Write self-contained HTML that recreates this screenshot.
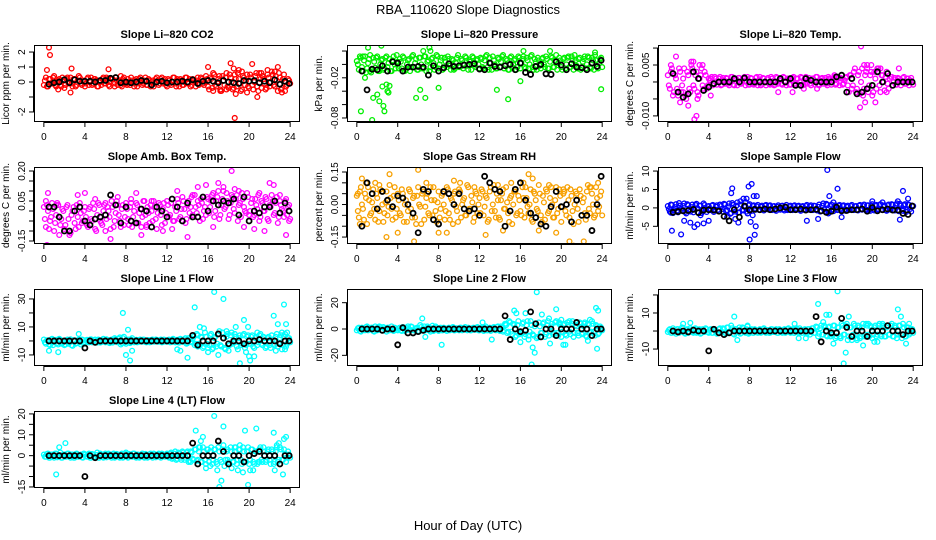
<!DOCTYPE html>
<html><head><meta charset="utf-8"><style>
html,body{margin:0;padding:0;background:#fff}
svg{display:block;font-family:"Liberation Sans",sans-serif}
</style></head><body>
<svg id="c" width="936" height="540" viewBox="0 0 936 540">
<text x="468" y="14" text-anchor="middle" font-size="13">RBA_110620  Slope Diagnostics</text>
<text x="468" y="530" text-anchor="middle" font-size="13">Hour of Day (UTC)</text>
</svg>
<script>
const hoursCore=[0,0.2,0.4,0.6,0.8,1,1.2,1.4,1.6,1.8,2,2.2,2.4,2.6,2.8,3,3.2,3.4,3.6,3.8,4,4.2,4.4,4.6,4.8,5,5.2,5.4,5.6,5.8,6,6.2,6.4,6.6,6.8,7,7.2,7.4,7.6,7.8,8,8.2,8.4,8.6,8.8,9,9.2,9.4,9.6,9.8,10,10.2,10.4,10.6,10.8,11,11.2,11.4,11.6,11.8,12,12.2,12.4,12.6,12.8,13,13.2,13.4,13.6,13.8,14,14.2,14.4,14.6,14.8,15,15.2,15.4,15.6,15.8,16,16.2,16.4,16.6,16.8,17,17.2,17.4,17.6,17.8,18,18.2,18.4,18.6,18.8,19,19.2,19.4,19.6,19.8,20,20.2,20.4,20.6,20.8,21,21.2,21.4,21.6,21.8,22,22.2,22.4,22.6,22.8,23,23.2,23.4,23.6,23.8,24];
const hoursCore2=[0.1,0.3,0.5,0.7,0.9,1.1,1.3,1.5,1.7,1.9,2.1,2.3,2.5,2.7,2.9,3.1,3.3,3.5,3.7,3.9,4.1,4.3,4.5,4.7,4.9,5.1,5.3,5.5,5.7,5.9,6.1,6.3,6.5,6.7,6.9,7.1,7.3,7.5,7.7,7.9,8.1,8.3,8.5,8.7,8.9,9.1,9.3,9.5,9.7,9.9,10.1,10.3,10.5,10.7,10.9,11.1,11.3,11.5,11.7,11.9,12.1,12.3,12.5,12.7,12.9,13.1,13.3,13.5,13.7,13.9,14.1,14.3,14.5,14.7,14.9,15.1,15.3,15.5,15.7,15.9,16.1,16.3,16.5,16.7,16.9,17.1,17.3,17.5,17.7,17.9,18.1,18.3,18.5,18.7,18.9,19.1,19.3,19.5,19.7,19.9,20.1,20.3,20.5,20.7,20.9,21.1,21.3,21.5,21.7,21.9,22.1,22.3,22.5,22.7,22.9,23.1,23.3,23.5,23.7,23.9];
const hoursBlk=[0.5,1,1.5,2,2.5,3,3.5,4,4.5,5,5.5,6,6.5,7,7.5,8,8.5,9,9.5,10,10.5,11,11.5,12,12.5,13,13.5,14,14.5,15,15.5,16,16.5,17,17.5,18,18.5,19,19.5,20,20.5,21,21.5,22,22.5,23,23.5,23.9];
const xTicks=[0,4,8,12,16,20,24];

const co2Core=[-0.2,0.3,-0.3,0.2,-0.1,0.4,-0.3,0.1,-0.2,0.3,-0.4,0.2,-0.1,0.3,-0.3,0.2,-0.2,0.4,-0.1,0.1,-0.3,0.2,-0.2,0.3,-0.1,0.2,-0.3,0.1,-0.2,0.3,-0.1,0.2,-0.3,0.2,-0.1,0.3,-0.2,0.1,-0.3,0.3,-0.1,0.2,-0.2,0.1,-0.3,0.2,-0.1,0.3,-0.2,0.1,-0.2,0.2,-0.3,0.1,-0.1,0.3,-0.2,0.2,-0.1,0.2,-0.3,0.1,-0.2,0.3,-0.1,0.2,-0.3,0.1,-0.2,0.3,-0.1,0.2,-0.2,0.1,-0.3,0.3,-0.1,0.2,-0.2,0.4,-0.3,0.3,-0.4,0.5,-0.3,0.2,-0.5,0.4,-0.2,0.6,-0.4,0.3,-0.5,0.5,-0.3,0.2,-0.6,0.4,-0.2,0.5,-0.4,0.3,-0.5,0.4,-0.3,0.6,-0.4,0.2,-0.5,0.5,-0.3,0.7,-0.2,0.4,-0.6,0.3,-0.4,0.5,-0.3,0.2,-0.1];
const co2Core2=[0.1,-0.3,0.2,-0.1,0.3,-0.2,0.0,0.2,-0.3,0.1,-0.2,0.3,0.0,-0.1,0.2,-0.3,0.1,0.3,-0.2,0.0,-0.1,0.3,0.0,-0.2,0.2,0.1,-0.3,0.0,0.2,-0.1,0.3,-0.2,0.0,0.2,-0.3,0.1,0.0,-0.2,0.2,0.1,-0.2,0.0,0.3,-0.1,0.1,-0.3,0.2,0.0,-0.1,0.3,-0.2,0.1,0.0,-0.3,0.2,0.1,-0.1,0.3,0.0,-0.2,0.2,-0.1,0.0,0.3,-0.3,0.1,0.2,-0.2,0.0,0.3,-0.1,-0.3,0.2,0.0,0.1,-0.2,0.3,-0.1,0.0,0.2,-0.5,0.2,0.6,-0.2,0.0,0.4,-0.6,0.1,0.3,-0.3,0.5,0.0,-0.4,0.2,0.6,-0.1,-0.5,0.3,0.1,-0.3,0.5,-0.2,0.0,0.6,-0.6,0.2,0.4,-0.1,-0.4,0.3,0.0,0.5,-0.3,0.1,0.6,-0.5,0.2,0.0,-0.2,0.1];
const co2OutX=[0.3,0.5,0.6,1.4,2.6,2.7,6.3,7.5,16,16.5,17.2,18.2,18.5,18.6,18.7,19.3,19.8,20.3,20.8,21.2,21.8,22.5,22.8,23.2,23.5,17.8,19];
const co2OutY=[0.8,2.3,1.8,-0.5,-0.7,0.9,0.85,0.4,1.0,-0.6,-0.6,1.25,0.9,-2.4,-0.8,0.7,-0.7,1.2,-1.0,0.6,0.8,0.7,1.0,-0.7,-0.6,-0.5,0.8];
const co2Blk=[-0.15,-0.05,0,0.15,-0.05,0.15,0.05,0.05,0.05,0,0.1,0.1,0.25,0.3,-0.05,0,-0.05,0,0.1,0.05,-0.2,0,0.05,-0.05,0,0,0.05,0,0.15,-0.1,0.05,0.1,0.05,-0.05,0.1,0,-0.05,-0.1,0.1,0.05,0.1,-0.05,0.05,-0.05,0.15,-0.15,0.05,-0.1];

const presCore=[0.005,-0.008,0.01,-0.01,0.012,-0.006,0.008,-0.012,0.01,-0.005,0.012,-0.01,0.006,-0.008,0.01,-0.004,0.008,-0.01,0.012,-0.006,0.004,0.008,-0.006,0.01,-0.008,0.006,-0.01,0.012,-0.004,0.008,-0.008,0.01,-0.006,0.012,-0.01,0.006,-0.004,0.01,-0.008,0.014,-0.006,0.006,-0.008,0.01,-0.004,0.008,-0.008,0.006,-0.006,0.01,-0.004,0.008,-0.006,0.012,-0.002,0.006,-0.008,0.01,-0.004,0.008,-0.006,0.008,-0.006,0.012,-0.004,0.01,-0.008,0.006,-0.006,0.01,-0.004,0.012,-0.006,0.008,-0.008,0.01,-0.004,0.006,-0.008,0.012,-0.006,0.008,-0.004,0.01,-0.006,0.012,-0.004,0.008,-0.008,0.006,-0.006,0.01,-0.004,0.008,-0.006,0.012,-0.004,0.006,-0.008,0.01,-0.004,0.008,-0.006,0.01,-0.004,0.012,-0.008,0.006,-0.006,0.01,-0.004,0.008,-0.006,0.012,-0.004,0.01,-0.008,0.006,-0.006,0.008,-0.004];
const presCore2=[0.0,0.012,-0.004,0.006,-0.012,0.002,0.014,-0.008,0.004,0.01,-0.01,0.0,0.008,-0.006,0.012,0.002,-0.01,0.006,0.0,0.014,-0.006,0.004,0.012,-0.01,0.0,0.008,-0.004,0.014,0.002,-0.008,0.01,0.0,-0.006,0.012,0.004,-0.01,0.008,0.002,-0.004,0.012,0.0,0.01,-0.006,0.004,0.012,-0.002,0.008,-0.008,0.002,0.014,-0.004,0.006,0.0,0.01,-0.008,0.004,0.012,-0.002,0.006,0.0,0.01,-0.004,0.006,0.014,-0.008,0.002,0.012,0.0,-0.006,0.008,0.004,0.014,-0.002,0.006,-0.008,0.012,0.0,0.008,-0.004,0.01,0.002,0.012,-0.006,0.006,0.0,0.014,-0.008,0.004,0.01,-0.002,0.008,0.0,0.012,-0.006,0.004,0.01,-0.004,0.014,0.002,0.006,-0.008,0.01,0.0,0.012,-0.004,0.006,0.014,-0.002,0.008,-0.008,0.004,0.012,0.0,0.01,-0.006,0.006,0.014,-0.004,0.002,0.01];
const presOutX=[0.4,0.6,1.1,1.5,1.6,2.0,2.2,2.4,2.5,2.6,2.7,2.9,3.0,3.1,3.2,5.8,6.2,6.5,6.7,7.1,7.2,8.0,13.7,14.8,16.0,16.3,18.9,23.3,23.9,0.8,1.3];
const presOutY=[-0.07,0.012,0.025,-0.083,-0.05,-0.045,-0.055,0.028,-0.033,-0.062,-0.07,-0.03,-0.04,-0.042,-0.032,-0.05,-0.038,0.02,-0.05,0.025,0.02,-0.035,-0.038,-0.052,-0.025,0.02,0.02,0.018,-0.037,-0.02,-0.01];
const presBlk=[-0.01,-0.038,-0.007,-0.008,-0.002,-0.01,0.004,0.002,-0.01,-0.004,-0.004,-0.003,-0.004,-0.016,-0.002,-0.01,-0.005,0.001,-0.003,-0.002,-0.001,0,0.001,-0.007,-0.008,0.002,-0.003,-0.004,-0.002,0,-0.008,0.002,-0.012,-0.015,-0.003,0,-0.014,-0.015,0.004,-0.001,-0.008,0.001,-0.004,-0.005,-0.008,0.002,-0.003,0.006];

const tempCore=[0.002,-0.002,0.004,-0.003,0.001,-0.004,0.003,-0.001,0.004,-0.005,0.002,-0.003,0.004,-0.002,0.003,-0.004,0.002,-0.001,0.003,-0.002,0.001,0.001,-0.001,0.0015,-0.0008,0.001,-0.001,0.0012,-0.0005,0.001,-0.001,0.0015,-0.0008,0.001,-0.001,0.0012,-0.0005,0.001,-0.001,0.0015,-0.0008,0.001,-0.0008,0.0012,-0.001,0.0015,-0.0005,0.001,-0.001,0.0012,-0.0008,0.001,-0.001,0.0015,-0.0005,0.001,-0.0008,0.0012,-0.001,0.001,-0.0008,0.0012,-0.001,0.001,-0.0008,0.0015,-0.001,0.001,-0.0005,0.0012,-0.001,0.001,-0.0008,0.0015,-0.001,0.001,-0.0005,0.0012,-0.001,0.001,-0.0008,0.001,-0.0008,0.0012,-0.001,0.001,-0.0005,0.0012,-0.001,0.002,-0.002,0.003,-0.003,0.002,-0.0035,0.004,-0.002,0.003,-0.003,0.002,-0.004,0.003,-0.002,0.004,-0.003,0.002,-0.0025,0.003,-0.002,0.0015,-0.001,0.0012,-0.0008,0.001,-0.001,0.0012,-0.0005,0.001,-0.001,0.0012,-0.0008];
const tempCore2=[-0.001,0.003,-0.004,0.002,-0.002,0.004,-0.003,0.001,-0.004,0.003,-0.002,0.005,-0.001,0.002,-0.003,0.001,0.004,-0.002,0.002,-0.001,0.0005,0.0015,-0.0005,0.001,0,0.0015,-0.0008,0.0005,0.0012,-0.0005,0,0.0015,-0.001,0.0008,0.0012,-0.0005,0.0005,0.0015,0,-0.0008,0.0012,0,-0.0005,0.0015,0.0005,-0.001,0.0012,0,0.0008,-0.0005,0.0015,0,-0.0008,0.0012,0.0005,-0.0005,0.0015,0,0.001,-0.0008,0.0005,0.0015,-0.0005,0.001,0,0.0012,-0.0008,0.0015,0.0005,-0.0005,0.001,0,0.0015,-0.0008,0.0005,0.0012,0,-0.0005,0.0015,0.0008,0,0.0015,-0.0005,0.001,0.0012,-0.0008,0.0005,0.0015,-0.003,0.002,-0.001,0.004,-0.002,0.003,0.0,-0.004,0.002,0.004,-0.001,0.003,-0.003,0.001,0.004,-0.001,0.002,0.0,0.0015,-0.0005,0.001,0.0015,0,-0.0008,0.0012,0.0005,0,0.0015,-0.0005,0.001,0.0005,0];
const tempOutX=[0.3,0.8,1.2,1.5,2.0,2.3,2.5,2.6,2.8,2.9,3.1,3.4,4.2,10.8,12.2,13.3,14.6,16.3,18.8,18.9,19.2,19.3,19.5,19.9,20.3,20.8,22.6,21.4];
const tempOutY=[0.005,0.0075,-0.006,-0.003,-0.007,0.006,0.006,-0.011,-0.01,-0.005,0.005,0.005,-0.004,-0.003,-0.003,-0.002,-0.002,0.002,-0.0075,0.0105,0.005,-0.006,0.005,0.005,-0.006,0.004,0.004,-0.003];
const tempBlk=[0.0025,-0.003,-0.0045,-0.0035,0.003,0.001,-0.0025,-0.0015,-0.0005,0,0,0,0.001,0,0.0012,0,0,0,0,0,0,0.001,0,0.001,-0.001,-0.001,0.001,0.0005,0,0,0,0,0.0015,0.002,-0.003,0.001,-0.0035,-0.003,-0.002,-0.001,0.003,0,0.0025,-0.001,0,0,0,0];

const ambCore=[0.02,-0.08,0.0,-0.05,0.04,-0.1,-0.02,0.03,-0.07,0.01,-0.09,0.02,-0.04,-0.11,0.0,-0.06,0.03,-0.08,-0.01,-0.05,0.02,-0.07,0.01,-0.04,0.04,-0.09,-0.02,0.03,-0.06,0.0,-0.1,0.02,-0.03,0.05,-0.08,-0.01,0.03,-0.05,0.01,-0.07,0.04,-0.04,0.02,-0.08,0.0,0.04,-0.06,0.01,-0.03,0.05,-0.07,-0.01,0.03,-0.05,0.02,-0.09,0.04,-0.02,0.01,-0.06,0.05,-0.03,0.04,-0.05,0.02,0.06,-0.04,0.01,0.05,-0.06,0.03,-0.01,0.07,-0.03,0.02,0.05,-0.05,0.04,0.0,-0.02,0.06,0.02,0.08,-0.03,0.05,0.1,-0.02,0.06,0.01,0.09,-0.04,0.04,0.07,-0.01,0.08,0.03,-0.03,0.06,0.0,0.09,-0.02,0.04,-0.03,0.06,0.01,-0.05,0.05,0.0,0.07,-0.04,0.03,0.08,-0.02,0.04,-0.06,0.05,0.01,-0.03,0.06,0.02,-0.04];
const ambCore2=[-0.04,0.03,-0.09,-0.03,0.01,-0.06,0.04,-0.12,-0.04,0.0,-0.07,0.03,-0.1,-0.02,0.02,-0.09,-0.03,0.04,-0.06,0.0,-0.03,-0.08,0.02,-0.05,0.01,-0.1,0.04,-0.03,-0.07,0.03,-0.04,0.0,-0.09,0.02,-0.05,0.05,-0.02,-0.08,0.03,-0.03,0.01,-0.07,0.04,-0.03,-0.06,0.03,-0.01,-0.08,0.05,-0.02,0.02,-0.06,0.0,0.05,-0.04,-0.01,0.03,-0.07,0.04,-0.01,0.03,-0.02,0.06,-0.05,0.0,0.04,-0.03,0.07,0.01,-0.04,0.05,0.02,-0.02,0.08,-0.01,0.03,0.06,-0.04,0.02,0.07,-0.01,0.05,0.09,0.0,0.07,-0.04,0.03,0.1,0.02,0.05,-0.02,0.08,0.01,0.06,-0.05,0.04,0.09,0.02,-0.01,0.07,0.0,0.06,-0.02,0.03,0.08,-0.03,0.04,0.0,0.06,-0.05,0.02,0.05,-0.01,0.07,-0.03,0.03,0.0,0.05,-0.02,0.03];
const ambOutX=[0.2,0.3,0.4,1.8,3.3,4.0,5.5,6.0,6.5,7.2,9.0,9.5,10.5,11.6,13.0,14.0,15.0,15.8,17.0,17.5,18.3,18.6,19.5,20.5,21.5,22.0,22.4,23.6,23.9,2.5,8.5,12.5,16.5,21.0,1.2,5.0,10,14.5,19,23];
const ambOutY=[0.05,-0.17,0.09,-0.18,0.08,0.09,-0.05,0.04,-0.14,0.07,0.09,-0.12,0.05,-0.1,0.1,-0.13,0.12,0.13,0.14,0.12,0.2,0.11,-0.08,-0.09,-0.1,0.14,0.13,-0.12,-0.05,-0.12,0.06,-0.09,-0.08,0.09,0.03,0.06,-0.08,0.08,0.1,0.08];
const ambBlk=[0.02,0.02,-0.03,-0.1,-0.1,0.0,0.02,-0.05,-0.07,-0.04,-0.03,-0.02,0.08,0.03,-0.06,0.02,-0.05,-0.06,0.01,0.0,-0.08,0.02,0.0,-0.03,0.06,0.02,-0.05,0.04,-0.03,-0.03,0.07,0.0,0.05,0.03,0.05,0.04,0.06,-0.02,0.07,-0.05,0.0,-0.01,0.02,0.02,0.05,-0.01,0.04,0.0];

const rhCore=[0.04,-0.06,0.08,-0.02,0.05,-0.09,0.02,-0.04,0.07,-0.07,0.03,-0.03,0.06,-0.08,0.01,-0.05,0.09,-0.02,0.04,-0.06,0.05,-0.04,0.07,-0.08,0.02,-0.03,0.06,-0.06,0.04,-0.09,0.08,-0.01,0.05,-0.07,0.03,-0.04,0.08,-0.05,0.02,-0.08,0.06,-0.02,0.05,-0.07,0.08,-0.04,0.03,-0.09,0.06,-0.03,0.07,-0.06,0.02,-0.05,0.09,-0.02,0.04,-0.08,0.06,-0.04,0.03,0.07,-0.05,0.04,-0.08,0.06,-0.03,0.09,-0.06,0.02,-0.07,0.05,-0.02,0.08,-0.04,0.03,-0.09,0.06,-0.05,0.04,-0.03,0.08,-0.06,0.03,-0.04,0.07,-0.08,0.05,-0.02,0.09,-0.05,0.04,-0.07,0.06,-0.03,0.08,-0.06,0.02,-0.04,0.07,-0.08,0.05,-0.03,0.08,-0.06,0.04,-0.09,0.06,-0.02,0.07,-0.05,0.03,-0.07,0.09,-0.04,0.05,-0.06,0.08,-0.03,0.04,-0.05];
const rhCore2=[-0.03,0.06,0.0,-0.07,0.03,0.08,-0.05,0.01,-0.02,0.05,-0.08,0.07,0.0,-0.04,0.06,-0.01,0.03,-0.07,0.08,-0.02,0.02,-0.05,0.05,0.0,-0.08,0.07,-0.02,0.03,-0.06,0.04,0.0,-0.09,0.06,-0.01,0.05,-0.05,0.02,0.08,-0.03,0.01,-0.06,0.04,0.0,-0.03,0.07,-0.07,0.02,0.05,-0.01,-0.08,0.06,0.0,0.03,-0.05,0.08,-0.02,0.01,-0.06,0.05,0.0,-0.04,0.06,-0.01,0.03,-0.07,0.08,0.0,-0.03,0.05,-0.06,0.02,0.07,-0.02,0.01,-0.08,0.04,0.0,0.06,-0.04,0.02,-0.05,0.03,0.08,-0.01,0.0,-0.07,0.06,0.02,-0.03,0.05,-0.08,0.01,0.07,-0.04,0.03,0.0,-0.06,0.08,-0.02,0.04,-0.01,0.06,-0.05,0.02,0.07,-0.03,0.0,0.05,-0.08,0.04,0.01,-0.04,0.06,-0.02,0.08,0.0,-0.05,0.03,-0.01,0.06];
const rhOutX=[0.1,0.5,0.9,1.8,2.9,3.2,4.0,5.6,6.0,6.8,8.0,8.8,10.1,11.5,12.6,14.3,15.1,16.0,16.3,16.8,17.2,17.8,18.8,19.5,20.2,20.8,21.2,22.2,23.6,0.3,2.2,9.5,13.8,22.8];
const rhOutY=[0.05,0.12,0.1,0.1,-0.15,0.14,-0.13,-0.17,0.16,0.1,-0.13,-0.13,0.1,0.08,-0.14,-0.12,0.1,-0.21,0.1,0.14,0.12,-0.12,0.09,-0.13,0.07,-0.17,-0.19,-0.17,0.1,-0.09,0.09,0.11,0.09,0.08];
const rhBlk=[-0.1,0.1,0.05,-0.02,0.06,0.02,-0.01,0.04,0.03,0.0,-0.04,-0.13,0.07,0.06,-0.07,-0.09,0.06,0.05,0.0,0.05,-0.02,-0.03,-0.02,-0.05,0.13,0.1,0.07,0.06,-0.1,-0.03,0.07,0.1,0.02,-0.04,-0.06,-0.09,-0.1,-0.01,0.06,-0.01,0.0,-0.08,0.02,-0.05,-0.05,-0.12,0.0,0.13];

const flowCore=[0.5,-1.0,0.8,-0.6,1.0,-1.2,0.6,-0.8,1.2,-1.5,0.7,-1.0,0.9,-0.5,1.1,-1.3,0.6,-0.9,0.8,-1.1,0.5,-0.6,0.8,-0.4,0.7,-0.8,0.5,-1.0,0.9,-0.6,1.2,-1.4,0.8,-1.0,1.5,-1.2,0.9,-0.7,1.6,-1.5,1.0,-0.8,0.7,-0.5,0.8,-0.6,0.6,-0.7,0.8,-0.4,0.7,-0.6,0.5,-0.8,0.7,-0.5,0.6,-0.7,0.8,-0.4,0.6,-0.6,0.7,-0.5,0.6,-0.8,0.5,-0.6,0.8,-0.5,0.7,-0.6,0.5,-0.7,0.9,-0.8,1.2,-1.0,0.8,-1.2,0.9,-0.9,0.7,-0.6,0.8,-0.5,0.7,-0.8,0.6,-0.5,0.8,-0.6,0.5,-0.7,0.8,-0.5,0.9,-0.6,0.7,-0.8,1.0,-0.7,0.8,-0.5,1.0,-0.6,0.7,-0.8,0.9,-0.5,0.8,-0.7,1.2,-0.9,0.6,-0.8,1.0,-0.6,0.8,-1.0,0.5];
const flowCore2=[-0.3,0.9,-1.4,0.2,-0.7,1.3,-0.2,0.5,-1.1,1.0,-0.4,0.2,-1.2,0.8,-0.1,0.6,-1.4,1.2,-0.3,0.4,-0.2,0.6,-1.1,0.3,-0.5,0.9,-0.3,1.1,-0.9,0.4,-1.6,1.3,-0.2,0.6,-1.3,1.8,-0.5,0.3,-1.0,0.7,-0.3,0.5,-0.2,0.4,-0.5,0.3,-0.4,0.6,-0.2,0.5,-0.3,0.4,-0.5,0.3,-0.2,0.5,-0.4,0.3,-0.6,0.4,-0.3,0.5,-0.2,0.4,-0.5,0.3,-0.4,0.5,-0.2,0.4,-0.3,0.6,-0.5,0.3,-1.0,0.6,-0.4,1.1,-1.5,0.5,-0.4,0.5,-0.3,0.6,-0.2,0.5,-0.4,0.3,-0.6,0.5,-0.3,0.4,-0.5,0.6,-0.3,0.5,-0.4,0.7,-0.5,0.6,-0.4,0.6,-0.3,0.8,-0.5,0.4,-0.6,0.7,-0.3,1.0,-0.5,0.8,-0.6,1.1,-0.4,0.7,-1.1,0.9,-0.3,0.6];
const flowOutX=[0.4,1.3,1.6,2.2,2.6,2.9,3.2,3.5,5.8,6.2,6.3,6.6,6.9,7.4,7.7,7.9,8.0,8.1,8.2,8.3,8.4,8.5,8.6,8.7,13.6,14.7,15.6,15.8,16.2,16.6,17.0,20.0,21.0,22.5,22.7,23.0,23.5,0.3,4.0];
const flowOutY=[-6.2,-7.2,-3.5,-4.0,-5.2,-4.5,-2.0,-4.2,-2.5,4.0,5.3,-3.0,-4.0,2.5,2.5,5.8,-8.6,-3.8,6.5,-2.0,3.2,-7.3,-5.0,3.2,-3.5,-3.0,10.3,3.2,1.5,5.2,-2.5,1.8,1.5,1.8,-3.2,4.6,2.5,-1.3,-3.5];
const flowBlk=[-1.2,-1.0,-0.8,-0.7,-0.4,-1.3,-0.6,-0.5,-0.6,-0.9,-2.3,-3.5,-0.5,-2.5,0.5,-0.6,-0.4,-0.5,-0.3,-0.5,-0.3,0.0,0.2,-0.5,-0.5,-0.3,-0.6,-0.5,-0.4,-0.8,-1.2,-0.9,0.2,-0.8,-0.7,-0.5,-0.5,-0.3,-0.9,0.1,-0.8,-0.5,-0.3,-0.6,-0.6,-1.5,-1.8,0.5];

const l1Core=[1,-2,0.5,-3,1.5,-1,0.8,-2.5,1,-1.5,-3,0.5,-2,1.2,-3.5,0.5,-1.5,1,-2.5,0.8,-1,0.8,-1,1.2,-0.5,1,-1.2,0.6,-0.8,1.5,-1,0.8,-1.5,1,-0.6,1.2,-1,2.5,-1.5,3,-2,1,-1.5,2,-1,0.8,-0.8,1,-0.5,0.8,-1,0.6,-0.8,1,-0.5,0.8,-0.6,1,-0.8,0.6,-0.5,1,-0.8,1.5,-1,0.8,-1.2,1,-0.6,2,-1.5,1,-1,3,-2,4,-3,2.5,-4,3,-5,4,-6,2,-4,5,-3,6,-5,3,-7,4,-2,5,-4,2,-3,4,-5,3,-2,3,-4,2,-3,4,-2,3,-5,2,-3,4,-2,3,-4,2,-6,3,-4,2,-1];
const l1Core2=[-1,0.5,-2.5,1,-3,0,-1.5,1.5,-2,0,-2.5,1,-1,-3,0.5,-2,0,-1,1,-2,0,-0.8,1,-1,0.5,-0.5,1,-1.2,0.5,-0.5,1.2,-1,0.5,-1.2,2,-0.5,1.5,-2.5,2,-1,0.5,-1,1,-0.5,0.5,-1,0.8,-0.5,1,-0.8,0.5,-1,0.8,-0.5,1,-0.5,0.5,-1,1,-0.5,0.5,-1,1,-0.5,0.5,-1,1.5,-0.5,1,-2,2,-0.5,1.5,-3,5,-2,3,-5,6,-2,-3,5,-5,3,-2,7,-4,2,-6,5,-3,6,-1,3,-6,4,-2,5,-3,4,-2,4,-5,3,-1,5,-3,2,-4,3,-5,1,-3,5,-2,4,-3,5,-2,2];
const l1OutX=[0.5,1.4,3.4,7.7,8.0,8.2,8.4,8.6,13.0,13.3,14,14.7,15.0,15.2,15.6,16.0,16.6,17.0,17.5,17.8,18.7,19.1,19.5,19.7,19.9,20.0,20.1,20.5,20.8,21.8,22.4,22.6,22.8,23.2,23.4,23.6,23.7,23.5];
const l1OutY=[-7,-8,5,20,-10,8,-14,-7,-6,-7,-12,24,-4,10,9,-8,35,-10,30,7,10,-16,15,-8,10,-11,-14,-11,6,2,18,-7,12,6,26,12,6,-6];
const l1Blk=[0,0,0,0,0,0,0,-5,0,-1,0,0,0,0,0,0,0,0,0,0,0,0,0,0,0,0,0,0,4,-3,0,0,0,5,2,-2,0,0,-2,0,0,1,0,0,0,-2,0,0];

const l2Core=[-1,1,-2,0.5,-1,2,-0.5,1,-1.5,2,-1,0.5,-1,1.5,-0.5,1,-1,2,-1.5,0.5,-1,1,-1.5,0.5,-1,2,-0.5,1.5,-1,0.5,-1.5,3,-1,2,-0.5,1,-2,2.5,-1,1,-1.5,1,-1,0.5,-1.5,1,-0.5,1.5,-1,0.5,-1,1,-0.5,1.5,-1,0.5,-1,1,-0.5,1.5,-1,1,-1.5,2,-1,1,-0.5,1.5,-1,2,-1.5,1,-1,3,-2,5,-4,3,-5,6,-3,4,-6,3,-5,6,-4,2,-7,5,-3,4,-6,3,-5,2,-4,5,-3,4,-6,3,-4,5,-2,4,-6,3,-3,5,-4,2,-5,4,-3,6,-2,3,-4,2,-1];
const l2Core2=[0.5,-1.5,1,-0.5,1.5,-1,0,1,-2,0.5,-0.5,1.5,-1,0.5,-2,1,0,-1,1,-0.5,0.5,-1,1.5,-1.5,0.5,-0.5,2,-1,0,1,-2,1.5,0,-1,2,-1,0.5,-1.5,2,-0.5,0.5,-1,1,-0.5,0.5,-1,1,-1,0.5,-0.5,1,-1,0.5,-0.5,1,-1,0.5,-0.5,1,-1,0.5,-0.5,1,-1,0.5,-1.5,1,-0.5,1.5,-1,2,-2,4,-3,6,-2,4,-6,3,-4,-3,5,-4,6,-2,3,-5,4,-6,2,-3,5,-4,6,-2,4,-3,6,-5,3,-2,4,-5,3,-4,6,-3,2,-5,4,-3,5,-6,3,-2,4,-5,2,-3,1];
const l2OutX=[2.2,4.8,6.4,6.7,8.3,12.3,13.2,14.6,15.4,15.6,16.0,16.5,16.8,17.1,17.2,17.4,17.6,18.1,18.8,18.9,19.5,19.8,20.0,20.2,20.4,20.8,22.6,22.8,23.4,23.6,23.5,22.3,21.6];
const l2OutY=[2,1,8,-6,-12,5,-8,4,14,12,-10,12,-8,-27,-14,-18,28,11,8,-11,15,5,7,-12,-12,6,-9,7,16,14,-15,4,-3];
const l2Blk=[0,0,0,0,-1,0,0,-12,1,-3,-3,-2,-1,0,0,0,0,0,0,0,0,0,0,0,0,0,0,0,10,-8,0,-2,-1,13,4,-6,0,0,-5,0,0,0,5,0,0,-5,0,0];

const l3Core=[-0.5,1,-1,0.5,-1.5,1,-0.5,2,-1,0.5,-1,1.5,-0.5,1,-1,0.5,-1.5,1,-0.5,1,-1,1,-1,0.5,-1.5,1,-0.5,1.5,-1,2,-1,3,-1.5,1,-0.5,2,-1,1.5,-1,2.5,-1,1,-1,0.5,-1,1,-0.5,1.5,-1,0.5,-1,1,-0.5,1,-1,0.5,-1,1,-0.5,1.5,-1,1,-1,1.5,-1,0.5,-1,1,-1.5,1,-0.5,1.5,-1,2,-1.5,3,-2,2,-3,2.5,-2,3,-4,2,-3,4,-2,3,-5,2,-3,4,-2,3,-4,2,-3,4,-2,3,-4,2,-3,3,-2,4,-3,2,-2,3,-3,2,-4,3,-2,4,-3,2,-2,1,-1];
const l3Core2=[0.5,-1,1.5,-0.5,1,-1,0,1.5,-1.5,1,-0.5,0.5,-1,1.5,-0.5,1,-1,0,1.5,-0.5,0.5,-1,1,0,-1,1.5,-0.5,1,-1.5,2,-0.5,1.5,-2,1,0,-1.5,2,-0.5,1,-1.5,0.5,-1,1,-0.5,0.5,-1,1,-0.5,0.5,-1,1,-0.5,0.5,-1,1,-0.5,0.5,-1,1,-0.5,0.5,-1,1,-0.5,1.5,-1,0.5,-1,1,-2,1.5,-1,2.5,-3,1.5,-2,3,-2.5,2,-3,-2,3,-3,2,-4,3,-2,4,-3,2,-2,3,-4,2,-3,4,-2,3,-3,2,-2,3,-2,4,-3,2,-3,3,-2,4,-3,2,-2,3,-4,2,-3,2,-1,1];
const l3OutX=[1.5,2.2,6.5,6.8,7.8,12.4,12.8,13.5,14.7,15.2,15.5,15.8,16.2,16.6,16.9,17.2,17.4,17.7,18.0,18.5,19.1,19.6,20.2,20.5,21.0,22.2,22.5,22.8,23.3,23.6,23.9];
const l3OutY=[4,4.5,8,-5,3,4,-4,-4,15,5,9,9,-7,22,-3,-18,-12,8,-5,-5,-8,4,-6,-6,3,3,12,8,-7,4,1];
const l3Blk=[0,-0.5,0,-0.5,0.5,0,0,-11,1,-1,-2,-1,0,0,0,0,0,0,0,0,0,0,0,0,0,0,0,0,8,-6,0,-1,-1,7,2,-3,0,0,-3,0,0,0,3,0,0,-2,0,0];

const l4Core=[0.5,-0.5,1,-1,0.5,-1,1,-0.5,1.5,-1,0.5,-0.5,1,-1,0.5,-1,1,-0.5,0.5,-1,0.5,-0.5,1,-1,0.5,-0.5,1.5,-1,0.5,-1,1,-0.5,0.5,-1,1,-0.5,0.5,-1,1,-0.5,1.5,-1,0.5,-0.5,1,-1,0.5,-0.5,1,-1,0.5,-0.5,1,-1,0.5,-0.5,1,-1,0.5,-0.5,1,-1,1.5,-1,2,-1.5,1,-2,1.5,-1,2,-2.5,1.5,-2,3,-2,4,-3,2,-4,3,2,-4,3,-3,4,-2,3,-5,2,-3,4,-3,2,-4,3,-2,4,-3,2,-4,3,-3,2,-4,3,-2,4,-3,2,-2,3,-4,2,-3,4,-2,3,-3,2,-1];
const l4Core2=[-0.5,0.8,-1,0.5,-0.3,1,-0.8,0.3,-1,0.6,-0.5,1,-0.3,0.5,-1,0.8,-0.5,0.3,-0.8,1,-0.3,0.5,-1,0.8,-0.5,0.3,-1,1,-0.6,0.5,-0.8,1,-0.3,0.6,-1,0.8,-0.5,0.3,-1,1,-0.5,0.8,-0.3,1,-0.6,0.5,-1,0.3,-0.5,0.8,-1,0.6,-0.3,1,-0.8,0.5,-0.5,1,-0.3,0.6,-0.5,1,-1.5,1,-2,1.5,-1,2,-2,1.5,-3,2,-1.5,3,-2.5,2,-3,4,-2,3,-3,4,-2,3,-4,2,-3,5,-2,3,-4,2,-3,4,-2,3,-4,2,-3,4,-2,3,-4,2,-3,4,-3,2,-2,3,-4,2,-3,4,-2,3,-2,1,-1,0.5];
const l4OutX=[1.2,1.5,2.1,14.3,14.8,15.1,15.3,15.5,15.8,16.2,16.6,16.9,17.1,17.3,17.5,17.9,18.3,18.6,18.9,19.1,19.4,19.6,19.9,20.1,20.4,20.7,21.0,22.4,22.5,22.7,23.3,23.4,23.6,22.9];
const l4OutY=[-9,4,6,-3,12,4,7,9,-6,-5,19,-7,-15,-12,14,-2,-6,4,-7,5,-8,12,-14,-7,-7,13,-3,11,-7,5,-9,8,9,6];
const l4Blk=[0,0,0,0,0,0,0,-10,0,-1,0,0,0,0,0,0,0,0,0,0,0,0,0,0,0,0,0,0,6,-4,0,0,0,7,2,-4,0,0,-3,0,1,2,0,0,0,-4,0,0];

const NS='http://www.w3.org/2000/svg';
const svg=document.getElementById('c');
const colL=[34,347,658], colR=[300,612,923], rowT=[45,167,289,411], H=77;
const panels=[
 {key:'co2',title:'Slope Li\u2013820 CO2',yl:'Licor ppm per min.',c:0,r:0,y:[-2.67,2.47],t:[-2,-1,0,1,2],lab:{'-2':'-2','0':'0','1':'1','2':'2'},col:'#ff0000',core:co2Core,core2:co2Core2,ox:co2OutX,oy:co2OutY,blk:co2Blk},
 {key:'pressure',title:'Slope Li\u2013820 Pressure',yl:'kPa per min.',c:1,r:0,y:[-0.086,0.029],t:[0.02,0,-0.02,-0.04,-0.06,-0.08],lab:{'-0.02':'-0.02','-0.08':'-0.08'},col:'#00ee00',core:presCore,core2:presCore2,ox:presOutX,oy:presOutY,blk:presBlk},
 {key:'temp',title:'Slope Li\u2013820 Temp.',yl:'degrees C per min.',c:2,r:0,y:[-0.0118,0.0109],t:[0.01,0.005,0,-0.005,-0.01],lab:{'0.005':'0.005','-0.01':'-0.010'},col:'#ff00ff',core:tempCore,core2:tempCore2,ox:tempOutX,oy:tempOutY,blk:tempBlk},
 {key:'amb-box-temp',title:'Slope Amb. Box Temp.',yl:'degrees C per min.',c:0,r:1,y:[-0.165,0.22],t:[0.2,0.15,0.1,0.05,0,-0.05,-0.1,-0.15],lab:{'0.2':'0.20','0.05':'0.05','-0.15':'-0.15'},col:'#ff00ff',core:ambCore,core2:ambCore2,ox:ambOutX,oy:ambOutY,blk:ambBlk},
 {key:'gas-stream-rh',title:'Slope Gas Stream RH',yl:'percent per min.',c:1,r:1,y:[-0.182,0.173],t:[0.15,0.1,0.05,0,-0.05,-0.1,-0.15],lab:{'0.15':'0.15','0':'0.00','-0.15':'-0.15'},col:'#f7a000',core:rhCore,core2:rhCore2,ox:rhOutX,oy:rhOutY,blk:rhBlk},
 {key:'sample-flow',title:'Slope Sample Flow',yl:'ml/min per min.',c:2,r:1,y:[-9.8,11.1],t:[10,5,0,-5],lab:{'10':'10','5':'5','0':'0','-5':'-5'},col:'#0000ff',core:flowCore,core2:flowCore2,ox:flowOutX,oy:flowOutY,blk:flowBlk},
 {key:'line1-flow',title:'Slope Line 1 Flow',yl:'ml/min per min.',c:0,r:2,y:[-17.9,37.1],t:[30,20,10,0,-10],lab:{'30':'30','10':'10','-10':'-10'},col:'#00ffff',core:l1Core,core2:l1Core2,ox:l1OutX,oy:l1OutY,blk:l1Blk},
 {key:'line2-flow',title:'Slope Line 2 Flow',yl:'ml/min per min.',c:1,r:2,y:[-28.1,30.4],t:[20,0,-20],lab:{'20':'20','0':'0','-20':'-20'},col:'#00ffff',core:l2Core,core2:l2Core2,ox:l2OutX,oy:l2OutY,blk:l2Blk},
 {key:'line3-flow',title:'Slope Line 3 Flow',yl:'ml/min per min.',c:2,r:2,y:[-19.4,23.3],t:[20,10,0,-10],lab:{'10':'10','-10':'-10'},col:'#00ffff',core:l3Core,core2:l3Core2,ox:l3OutX,oy:l3OutY,blk:l3Blk},
 {key:'line4-flow',title:'Slope Line 4 (LT) Flow',yl:'ml/min per min.',c:0,r:3,y:[-15.5,21.4],t:[20,15,10,5,0,-5,-10,-15],lab:{'20':'20','10':'10','0':'0','-15':'-15'},col:'#00ffff',core:l4Core,core2:l4Core2,ox:l4OutX,oy:l4OutY,blk:l4Blk}
];
function mk(tag,attrs,parent){const e=document.createElementNS(NS,tag);for(const k in attrs)e.setAttribute(k,attrs[k]);(parent||svg).appendChild(e);return e;}
panels.forEach(p=>{
 const L=colL[p.c],R=colR[p.c],T=rowT[p.r],B=T+H;
 const g=mk('g',{});
 
 
 const xs=h=>L+(R-L)*(h+0.96)/25.92;
 const ys=v=>B-(v-p.y[0])/(p.y[1]-p.y[0])*H;
 const ti=mk('text',{x:(L+R)/2,y:T-7,'text-anchor':'middle','font-size':11,'font-weight':'bold'},g);
 ti.textContent=p.title;
 
 
 const yt=mk('text',{transform:`translate(${L-25},${(T+B)/2}) rotate(-90)`,'text-anchor':'middle','font-size':10},g);
 yt.textContent=p.yl;
 
 
 const xa=mk('g',{},g);
 
 
 mk('line',{x1:xs(0),x2:xs(24),y1:B+0.5,y2:B+0.5,stroke:'#000'},xa);
 xTicks.forEach(h=>{
  mk('line',{x1:xs(h),x2:xs(h),y1:B,y2:B+5,stroke:'#000'},xa);
  const tl=mk('text',{x:xs(h),y:B+18,'text-anchor':'middle','font-size':10},xa);
  tl.textContent=h;
  
  
 });
 const ya=mk('g',{},g);
 
 
 const tmin=Math.min(...p.t),tmax=Math.max(...p.t);
 mk('line',{x1:L-0.5,x2:L-0.5,y1:ys(tmin),y2:ys(tmax),stroke:'#000'},ya);
 p.t.forEach(v=>{
  const y=ys(v);
  mk('line',{x1:L-5,x2:L,y1:y,y2:y,stroke:'#000'},ya);
  const s=p.lab[String(v)];
  if(s!==undefined){
   const tl=mk('text',{transform:`translate(${L-9},${y}) rotate(-90)`,'text-anchor':'middle','font-size':10},ya);
   tl.textContent=s;
   
   
  }
 });
 const cid='clip-'+p.key;
 const cp=mk('clipPath',{id:cid},g);
 mk('rect',{x:L,y:T,width:R-L,height:H},cp);
 const pts=mk('g',{'clip-path':`url(#${cid})`,fill:'none'},g);
 
 
 const n1=Math.min(hoursCore.length,p.core.length);
 for(let i=0;i<n1;i++){
  const c=mk('circle',{cx:xs(hoursCore[i]),cy:ys(p.core[i]),r:2.4,stroke:p.col,'stroke-width':1.3},pts);
  
  
 }
 const n1b=Math.min(hoursCore2.length,p.core2.length);
 for(let i=0;i<n1b;i++){
  const c=mk('circle',{cx:xs(hoursCore2[i]),cy:ys(p.core2[i]),r:2.4,stroke:p.col,'stroke-width':1.3},pts);
  
  
 }
 const n2=Math.min(p.ox.length,p.oy.length);
 for(let i=0;i<n2;i++){
  const c=mk('circle',{cx:xs(p.ox[i]),cy:ys(p.oy[i]),r:2.4,stroke:p.col,'stroke-width':1.3},pts);
  
  
 }
 const n3=Math.min(hoursBlk.length,p.blk.length);
 for(let i=0;i<n3;i++){
  const c=mk('circle',{cx:xs(hoursBlk[i]),cy:ys(p.blk[i]),r:2.5,stroke:'#000','stroke-width':1.8},pts);
  
  
 }
 const box=mk('rect',{x:L+0.5,y:T+0.5,width:R-L-1,height:H-1,fill:'none',stroke:'#000'},g);
 
 
});
</script>
</body></html>
